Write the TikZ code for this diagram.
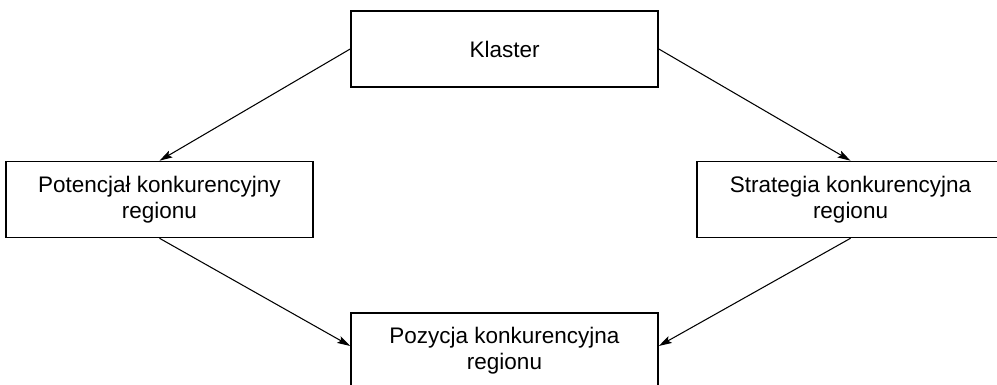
\documentclass[tikz,border=0pt]{standalone}
\usepackage{fontspec}
\setmainfont{Liberation Sans}
\usetikzlibrary{arrows.meta}

\tikzset{
  box/.style={draw, line width=0.45pt, minimum width=3.07cm, minimum height=0.76cm,
    align=center, inner sep=0pt, font=\fontsize{6.4}{7.4}\selectfont},
  link/.style={-{Stealth[length=1.3mm,width=0.75mm,inset=0.25mm]}, line width=0.3pt}
}

\begin{document}
\begin{tikzpicture}
\useasboundingbox (0,0) rectangle (9.97,3.85);
\node[box] (klaster) at (5.045,3.36) {Klaster};
\node[box] (potencjal) at (1.595,1.855) {Potencjał konkurencyjny\\regionu};
\node[box] (strategia) at (8.505,1.855) {Strategia konkurencyjna\\regionu};
\node[box] (pozycja) at (5.045,0.34) {Pozycja konkurencyjna\\regionu};% cut by the page
\draw[link] (klaster.west) -- (potencjal.north);
\draw[link] (klaster.east) -- (strategia.north);
\draw[link] (potencjal.south) -- ([yshift=0.5mm]pozycja.west);
\draw[link] (strategia.south) -- ([yshift=0.5mm]pozycja.east);
\end{tikzpicture}
\end{document}
